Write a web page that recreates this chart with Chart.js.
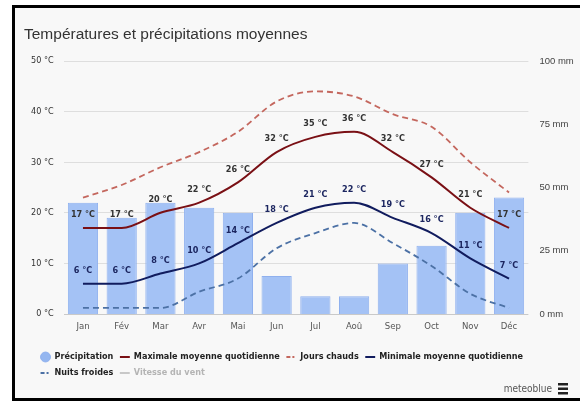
<!DOCTYPE html>
<html>
<head>
<meta charset="utf-8">
<script src="https://cdn.jsdelivr.net/npm/chart.js@4"></script>
<style>
  body { margin: 0; background: #fff; overflow: hidden; }
  #cadre {
    position: absolute; left: 12px; top: 5px;
    width: 565px; height: 390px;
    border-left: 3px solid #000; border-top: 3px solid #000; border-bottom: 3px solid #000;
    background: #f8f8f8;
  }
</style>
</head>
<body>
<div id="cadre"><canvas id="climatChart" width="565" height="390"></canvas></div>
<script>
// données
var mois = ['Jan', 'Fév', 'Mar', 'Avr', 'Mai', 'Jun', 'Jul', 'Aoû', 'Sep', 'Oct', 'Nov', 'Déc'];
var precipitation = [44, 38, 44, 42, 40, 15, 7, 7, 20, 27, 40, 46];
var maxMoyenne = [17, 17, 20, 22, 26, 32, 35, 36, 32, 27, 21, 17];
var joursChauds = [23, 25.5, 29, 32, 36, 42, 44, 43, 39.5, 37, 30, 24];
var minMoyenne = [6, 6, 8, 10, 14, 18, 21, 22, 19, 16, 11, 7];
var nuitsFroides = [1.2, 1.2, 1.2, 4.4, 7, 13, 16, 18, 14, 9.5, 4, 1.2];
var ticksTemp = [0, 10, 20, 30, 40, 50];
var ticksPluie = [0, 25, 50, 75, 100];

var narrow = '"DejaVu Sans Condensed", "DejaVu Sans", sans-serif';

// étiquettes "17 °C" au dessus des courbes
var etiquettes = {
    id: 'etiquettes',
    afterDatasetsDraw: function (chart) {
        var ctx = chart.ctx;
        chart.data.datasets.forEach(function (ds, i) {
            if (!ds.couleurEtiquette) return;
            var meta = chart.getDatasetMeta(i);
            ctx.save();
            ctx.font = 'bold 9px ' + narrow;
            ctx.fillStyle = ds.couleurEtiquette;
            ctx.textAlign = 'center';
            ctx.textBaseline = 'middle';
            meta.data.forEach(function (pt, j) {
                ctx.fillText(ds.data[j] + ' °C', pt.x, pt.y - 13);
            });
            ctx.restore();
        });
    }
};

// légende décalée + signature meteoblue
var decor = {
    id: 'decor',
    afterLayout: function (chart) {
        var dx = 19 - chart.legend.left;
        chart.legend.left += dx;
        chart.legend.right += dx;
    },
    afterDraw: function (chart) {
        var ctx = chart.ctx;
        ctx.save();
        ctx.font = '10px ' + narrow;
        ctx.fillStyle = '#555';
        ctx.textAlign = 'right';
        ctx.textBaseline = 'middle';
        ctx.fillText('meteoblue', 537, 381);
        ctx.fillStyle = '#222';
        ctx.fillRect(543, 375, 10, 2.5);
        ctx.fillRect(543, 379.5, 10, 2.5);
        ctx.fillRect(543, 384, 10, 2.5);
        ctx.restore();
    }
};

var ctx = document.getElementById('climatChart').getContext('2d');
new Chart(ctx, {
    data: {
        labels: mois,
        datasets: [{
            type: 'bar',
            label: 'Précipitation',
            data: precipitation,
            yAxisID: 'y1',
            backgroundColor: '#a4c2f5',
            borderColor: '#8fb0ee',
            borderWidth: 1,
            barPercentage: 0.78,
            categoryPercentage: 1,
            order: 10
        }, {
            type: 'line',
            label: 'Maximale moyenne quotidienne',
            data: maxMoyenne,
            yAxisID: 'y',
            borderColor: '#7a1015',
            backgroundColor: '#7a1015',
            borderWidth: 2,
            pointRadius: 0,
            cubicInterpolationMode: 'monotone',
            couleurEtiquette: '#333',
            order: 1
        }, {
            type: 'line',
            label: 'Jours chauds',
            data: joursChauds,
            yAxisID: 'y',
            borderColor: '#c4675e',
            backgroundColor: '#c4675e',
            borderWidth: 1.8,
            borderDash: [6, 4],
            pointRadius: 0,
            cubicInterpolationMode: 'monotone',
            order: 2
        }, {
            type: 'line',
            label: 'Minimale moyenne quotidienne',
            data: minMoyenne,
            yAxisID: 'y',
            borderColor: '#111c5e',
            backgroundColor: '#111c5e',
            borderWidth: 2,
            pointRadius: 0,
            cubicInterpolationMode: 'monotone',
            couleurEtiquette: '#1c2660',
            order: 1
        }, {
            type: 'line',
            label: 'Nuits froides',
            data: nuitsFroides,
            yAxisID: 'y',
            borderColor: '#4c71a5',
            backgroundColor: '#4c71a5',
            borderWidth: 1.8,
            borderDash: [6, 4],
            pointRadius: 0,
            cubicInterpolationMode: 'monotone',
            order: 2
        }]
    },
    options: {
        responsive: false,
        animation: false,
        devicePixelRatio: 1,
        layout: { padding: { left: 9, right: 4, top: 0, bottom: 10.5 } },
        plugins: {
            title: {
                display: true,
                text: 'Températures et précipitations moyennes',
                align: 'start',
                color: '#333',
                font: { family: '"Liberation Sans", Arial, sans-serif', size: 15.5, weight: 'normal' },
                padding: { top: 17.7, bottom: 16.7 }
            },
            legend: {
                position: 'bottom',
                align: 'start',
                labels: {
                    usePointStyle: true,
                    boxHeight: 7,
                    padding: 7,
                    font: { family: narrow, size: 9, weight: 'bold' },
                    generateLabels: function (chart) {
                        var items = chart.data.datasets.map(function (ds, i) {
                            return {
                                text: ds.label,
                                datasetIndex: i,
                                fillStyle: ds.type === 'bar' ? '#94b6f0' : ds.borderColor,
                                strokeStyle: ds.borderColor,
                                lineWidth: ds.type === 'bar' ? 1 : 2,
                                lineDash: ds.borderDash ? [4, 2, 2, 2] : [],
                                pointStyle: ds.type === 'bar' ? 'circle' : 'line',
                                hidden: false,
                                fontColor: '#222'
                            };
                        });
                        items.push({
                            text: 'Vitesse du vent',
                            fillStyle: '#c8c8c8',
                            strokeStyle: '#c8c8c8',
                            lineWidth: 2,
                            pointStyle: 'line',
                            hidden: false,
                            fontColor: '#b4b4b4'
                        });
                        return items;
                    }
                }
            },
            tooltip: { enabled: false }
        },
        scales: {
            x: {
                grid: { display: false, drawTicks: false },
                border: { display: false },
                ticks: { color: '#555', padding: 7, font: { family: narrow, size: 9.5 } },
                afterFit: function (s) { s.height = 31.5; }
            },
            y: {
                position: 'left',
                min: 0,
                max: 50,
                afterBuildTicks: function (s) { s.ticks = ticksTemp.map(function (v) { return { value: v }; }); },
                grid: {
                    drawTicks: false,
                    color: function (c) { return c.tick.value === 0 ? '#c9c9c9' : '#dedede'; }
                },
                border: { display: false },
                ticks: {
                    color: '#333',
                    padding: 10,
                    font: { family: narrow, size: 9 },
                    callback: function (v) { return v + ' °C'; }
                },
                afterFit: function (s) { s.width = 39.6; }
            },
            y1: {
                position: 'right',
                min: 0,
                max: 100,
                afterBuildTicks: function (s) { s.ticks = ticksPluie.map(function (v) { return { value: v }; }); },
                grid: { display: false, drawTicks: false },
                border: { display: false },
                ticks: {
                    color: '#444',
                    padding: 11,
                    font: { family: '"Liberation Sans", Arial, sans-serif', size: 9.5 },
                    callback: function (v) { return v + ' mm'; }
                },
                afterFit: function (s) { s.width = 47.6; }
            }
        }
    },
    plugins: [etiquettes, decor]
});
</script>
</body>
</html>
